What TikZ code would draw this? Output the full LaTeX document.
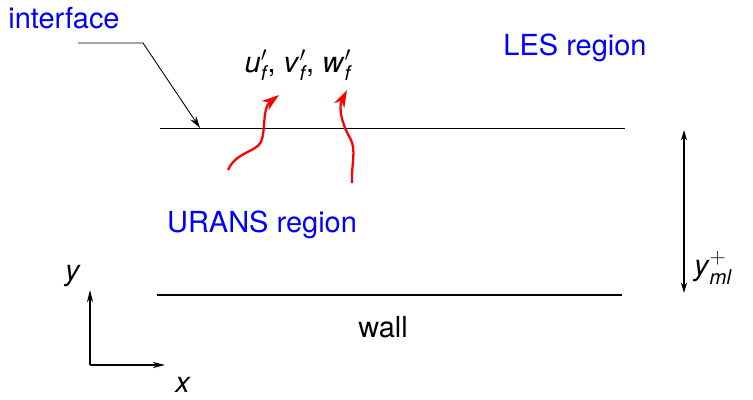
\documentclass[tikz,border=0pt]{standalone}
\usepackage{amsmath}
\usepackage{fontspec}
\setmainfont{TeX Gyre Heros}
\usetikzlibrary{arrows.meta,positioning}
\tikzset{
  label/.style={font=\fontsize{16.5}{19}\selectfont, inner sep=0pt},
  region/.style={label, text=blue},
  thinline/.style={draw=black, line width=0.55pt},
  wallline/.style={draw=black, line width=1.4pt},
  pointer/.style={-{Stealth[length=7pt,width=4pt]}, line width=0.5pt},
  dimarrow/.style={{Stealth[length=6pt,width=3.5pt]}-{Stealth[length=6pt,width=3.5pt]}, line width=0.6pt},
  axisarrow/.style={-{Stealth[length=7pt,width=3.5pt]}, line width=0.6pt},
  fluct/.style={-{Stealth[length=10pt,width=6.5pt]}, red, line width=1.3pt}
}
\newcommand{\fl}[1]{\textit{#1}$'_{\textit{f}}$}

\begin{document}
\begin{tikzpicture}[x=0.02cm, y=-0.02cm]
  \useasboundingbox (0,0) rectangle (753,399);
  % interface and wall
  \coordinate (ifL) at (160,128); \coordinate (ifR) at (625,128);
  \coordinate (wL) at (157,295); \coordinate (wR) at (622,295);
  \draw[thinline] (ifL) -- (ifR);
  \draw[wallline] (wL) -- (wR);
  % labels
  \node[region] (intf) at (64,18) {interface};
  \node[region] (les) at (575,48) {LES region};
  \node[region] (urans) at (262,225) {URANS region};
  \node[label] (wall) at (383,327) {wall};
  \node[label] (uvw) at (298,65) {\fl{u}, \fl{v}, \fl{w}};
  % leader to interface
  \coordinate (ldA) at (78,43); \coordinate (ldB) at (143,43); \coordinate (ldC) at (200,128);
  \draw[pointer] (ldA) -- (ldB) -- (ldC);
  % fluctuations
  \draw[fluct] (228,170) .. controls (236,152) and (256,152) .. (261,142)
    .. controls (266,130) and (262,108) .. (279,95);
  \draw[fluct] (352,183) .. controls (351,165) and (357,150) .. (350,138)
    .. controls (342,124) and (338,108) .. (347,90);
  % thickness
  \coordinate (dT) at (684,130); \coordinate (dB) at (684,293);
  \draw[dimarrow] (dT) -- (dB);
  \node[label] (yml) at (713,268) {\textit{y}$^{+}_{\textit{ml}}$};
  % axes
  \coordinate (O) at (90,365); \coordinate (yax) at (90,290); \coordinate (xax) at (165,365);
  \draw[axisarrow] (O) -- (yax);
  \draw[axisarrow] (O) -- (xax);
  \node[label] (ylab) at (73,276) {\textit{y}};
  \node[label] (xlab) at (183,385) {\textit{x}};
\end{tikzpicture}
\end{document}
